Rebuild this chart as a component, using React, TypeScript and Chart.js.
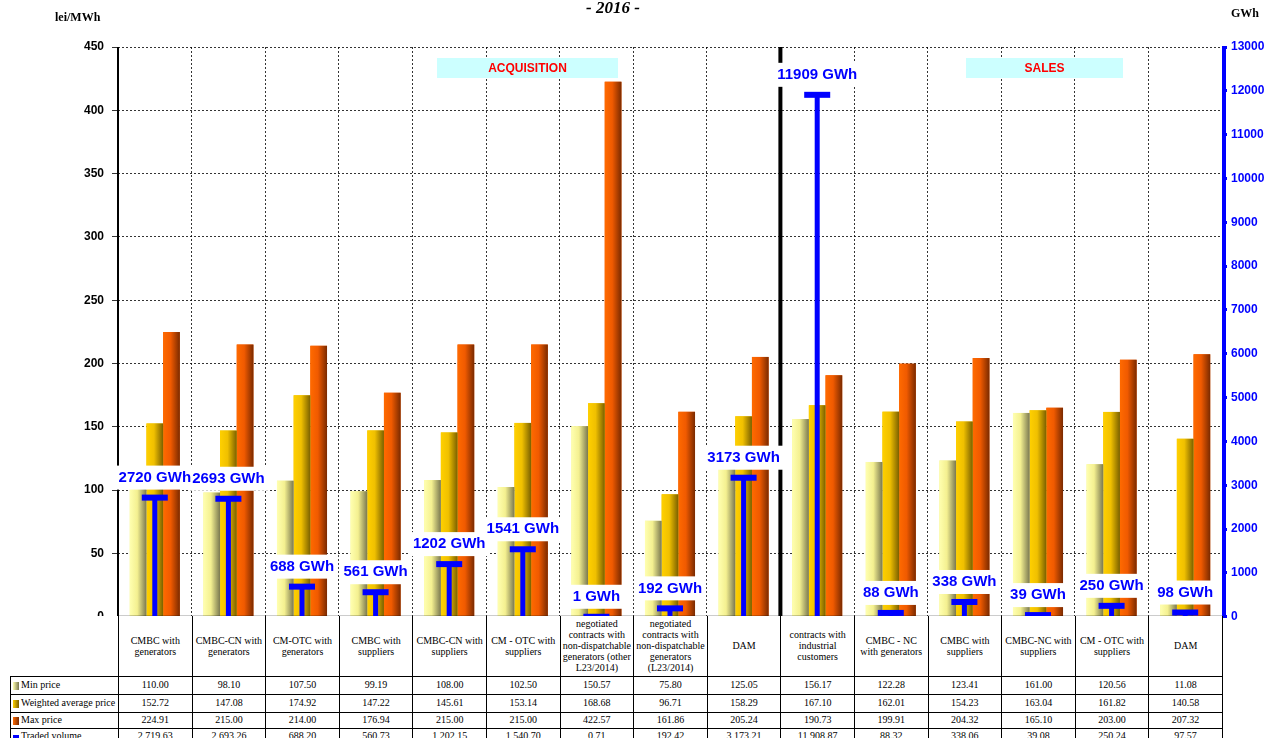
import { useEffect, useRef } from 'react';
import { Chart, registerables } from 'chart.js';

Chart.register(...registerables);

const categories = [
  'CMBC with generators', 'CMBC-CN with generators', 'CM-OTC with generators', 'CMBC with suppliers',
  'CMBC-CN with suppliers', 'CM - OTC with suppliers',
  'negotiated contracts with non-dispatchable generators (other L23/2014)',
  'negotiated contracts with non-dispatchable generators (L23/2014)', 'DAM',
  'contracts with industrial customers', 'CMBC - NC with generators', 'CMBC with suppliers',
  'CMBC-NC with suppliers', 'CM - OTC with suppliers', 'DAM',
];
const minPrice = [110.0, 98.1, 107.5, 99.19, 108.0, 102.5, 150.57, 75.8, 125.05, 156.17, 122.28, 123.41, 161.0, 120.56, 11.08];
const avgPrice = [152.72, 147.08, 174.92, 147.22, 145.61, 153.14, 168.68, 96.71, 158.29, 167.1, 162.01, 154.23, 163.04, 161.82, 140.58];
const maxPrice = [224.91, 215.0, 214.0, 176.94, 215.0, 215.0, 422.57, 161.86, 205.24, 190.73, 199.91, 204.32, 165.1, 203.0, 207.32];
const tradedVolume = [2719.63, 2693.26, 688.2, 560.73, 1202.15, 1540.7, 0.71, 192.42, 3173.21, 11908.87, 88.32, 338.06, 39.08, 250.24, 97.57];
const volumeLabels = ['2720 GWh', '2693 GWh', '688 GWh', '561 GWh', '1202 GWh', '1541 GWh', '1 GWh', '192 GWh', '3173 GWh', '11909 GWh', '88 GWh', '338 GWh', '39 GWh', '250 GWh', '98 GWh'];

const gradients: [string, string, string][] = [
  ['#ffffb0', '#f4f090', '#7a7850'],
  ['#ffd000', '#f0c000', '#7a6000'],
  ['#ff6a00', '#f05a00', '#7a2a00'],
];

const LEFT = 118;
const RIGHT = 63;
const COLW = (1285 - LEFT - RIGHT) / categories.length;

const fmt = (v: number) => v.toLocaleString('en-US', { minimumFractionDigits: 2, maximumFractionDigits: 2 });

const decor = {
  id: 'decor',
  afterDatasetDraw(chart: any, args: any) {
    if (args.index > 2) return;
    const ctx = chart.ctx;
    const [c0, c1, c2] = gradients[args.index];
    args.meta.data.forEach((b: any) => {
      const x0 = b.x - b.width / 2;
      const g = ctx.createLinearGradient(x0, 0, x0 + b.width, 0);
      g.addColorStop(0, c0);
      g.addColorStop(0.45, c1);
      g.addColorStop(1, c2);
      ctx.fillStyle = g;
      ctx.fillRect(x0, b.y, b.width, b.base - b.y);
    });
  },
  afterDatasetsDraw(chart: any) {
    const ctx = chart.ctx;
    const { top, bottom, left, right } = chart.chartArea;
    const x = chart.scales.x;
    const y1 = chart.scales.y1;
    // separator between acquisition and sales
    const sx = (x.getPixelForValue(8) + x.getPixelForValue(9)) / 2;
    ctx.save();
    ctx.fillStyle = '#000';
    ctx.fillRect(sx - 2, top, 4, bottom - top);
    // right axis line
    ctx.fillStyle = '#0000ff';
    ctx.fillRect(right, top, 4, bottom - top + 1);
    ctx.fillStyle = '#000';
    ctx.fillRect(left - 1, top, 2, bottom - top);
    ctx.fillRect(left, bottom - 1, right - left, 2);
    // boxes
    const box = (x0: number, x1: number, t: string) => {
      ctx.fillStyle = '#ccffff';
      ctx.fillRect(x0, 58, x1 - x0, 20);
      ctx.fillStyle = '#ff0000';
      ctx.font = 'bold 12px "Liberation Sans"';
      ctx.textAlign = 'center';
      ctx.textBaseline = 'middle';
      ctx.fillText(t, (x0 + x1) / 2, 69);
    };
    box(437, 618, 'ACQUISITION');
    box(966, 1123, 'SALES');
    // volume stems
    const base = y1.getPixelForValue(0);
    ctx.font = 'bold 15px "Liberation Sans"';
    ctx.textAlign = 'center';
    ctx.textBaseline = 'middle';
    tradedVolume.forEach((v, i) => {
      const cx = x.getPixelForValue(i);
      const py = y1.getPixelForValue(v);
      ctx.fillStyle = '#0000ff';
      ctx.fillRect(cx - 2.5, py, 5, base - py);
      ctx.fillRect(cx - 13, py - 3, 26, 6);
      const w = ctx.measureText(volumeLabels[i]).width;
      ctx.fillStyle = '#fff';
      ctx.fillRect(cx - w / 2 - 4, py - 32, w + 8, 24);
    });
    ctx.fillStyle = '#0000ff';
    tradedVolume.forEach((v, i) => {
      ctx.fillText(volumeLabels[i], x.getPixelForValue(i), y1.getPixelForValue(v) - 20);
    });
    ctx.restore();
  },
};

const ChartBox = () => {
  const ref = useRef<HTMLCanvasElement>(null);
  const inst = useRef<Chart | null>(null);
  useEffect(() => {
    if (inst.current) inst.current.destroy();
    if (!ref.current) return;
    const mk = (label: string, data: number[], color: string) => ({
      type: 'bar' as const, label, data, backgroundColor: color, yAxisID: 'y',
      categoryPercentage: 0.68, barPercentage: 1,
    });
    inst.current = new Chart(ref.current, {
      type: 'bar',
      data: {
        labels: categories,
        datasets: [
          mk('Min price', minPrice, gradients[0][1]),
          mk('Weighted average price', avgPrice, gradients[1][1]),
          mk('Max price', maxPrice, gradients[2][1]),
          { type: 'line', label: 'Traded volume', data: tradedVolume, yAxisID: 'y1', showLine: false, pointRadius: 0 } as any,
        ],
      },
      options: {
        animation: false,
        responsive: false,
        events: [],
        layout: { padding: { top: 47, bottom: 4 } },
        plugins: { legend: { display: false }, tooltip: { enabled: false } },
        scales: {
          x: {
            afterFit: (s: any) => { s.height = 0; },
            ticks: { display: false },
            border: { display: false, dash: [2, 2] },
            grid: { color: '#000', tickLength: 0, offset: true, drawTicks: false, lineWidth: 0.8 },
          },
          y: {
            min: 0, max: 450,
            afterFit: (s: any) => { s.width = LEFT; },
            ticks: { stepSize: 50, color: '#000', font: { family: 'Liberation Sans', weight: 'bold', size: 12 }, padding: 8 },
            border: { display: false, dash: [2, 2] },
            grid: { color: '#000', lineWidth: 0.8, tickLength: 6 },
          },
          y1: {
            position: 'right', min: 0, max: 13000,
            afterFit: (s: any) => { s.width = RIGHT; },
            ticks: { stepSize: 1000, color: '#0000ff', font: { family: 'Liberation Sans', weight: 'bold', size: 12 }, padding: 4, callback: (v: any) => String(v) },
            border: { display: false },
            grid: { drawOnChartArea: false, color: '#0000ff', lineWidth: 3, tickLength: 5 },
          },
        },
      },
      plugins: [decor],
    } as any);
    return () => { inst.current?.destroy(); inst.current = null; };
  }, []);
  return <canvas ref={ref} width={1285} height={632} style={{ position: 'absolute', left: 0, top: 0 }} />;
};

const rows: { label: string; data: number[]; swatch: string; h: number }[] = [
  { label: 'Min price', data: minPrice, swatch: 'linear-gradient(90deg,#ffffb0,#7a7850)', h: 18 },
  { label: 'Weighted average price', data: avgPrice, swatch: 'linear-gradient(90deg,#ffd000,#7a6000)', h: 18 },
  { label: 'Max price', data: maxPrice, swatch: 'linear-gradient(90deg,#ff6a00,#7a2a00)', h: 16 },
  { label: 'Traded volume', data: tradedVolume, swatch: '#0000ff', h: 16 },
];

export default function App() {
  const cell: any = { border: '1px solid #000', textAlign: 'center', padding: 0, width: COLW, boxSizing: 'border-box' };
  return (
    <div style={{ position: 'absolute', left: 0, top: 0, width: 1285, height: 738, background: '#fff', overflow: 'hidden', fontFamily: 'Liberation Serif' }}>
      <ChartBox />
      <div style={{ position: 'absolute', left: 586, top: -2, font: 'bold italic 17px "Liberation Serif"' }}>- 2016 -</div>
      <div style={{ position: 'absolute', left: 55, top: 10, font: 'bold 12px "Liberation Serif"' }}>lei/MWh</div>
      <div style={{ position: 'absolute', left: 1231, top: 6, font: 'bold 12px "Liberation Serif"' }}>GWh</div>
      <table style={{ position: 'absolute', left: 10, top: 616, borderCollapse: 'collapse', tableLayout: 'fixed', fontSize: 10, lineHeight: '10px', background: '#fff' }}>
        <colgroup>
          <col style={{ width: LEFT - 10 }} />
          {categories.map((_, i) => <col key={i} style={{ width: COLW }} />)}
        </colgroup>
        <tbody>
          <tr style={{ height: 60 }}>
            <td style={{ borderRight: '1px solid #000', padding: 0, background: '#fff' }} />
            {categories.map((c, i) => (
              <td key={i} style={{ ...cell, borderTop: 'none', padding: '0 1px', lineHeight: '11px' }}>{c}</td>
            ))}
          </tr>
          {rows.map((r) => (
            <tr key={r.label} style={{ height: r.h }}>
              <td style={{ border: '1px solid #000', whiteSpace: 'nowrap', paddingLeft: 2, paddingTop: 0, paddingBottom: 0 }}>
                <span style={{ display: 'inline-block', width: 6, height: r.label === 'Traded volume' ? 3 : 8, background: r.swatch, marginRight: 2, verticalAlign: 'middle' }} />
                {r.label}
              </td>
              {r.data.map((v, i) => <td key={i} style={cell}>{fmt(v)}</td>)}
            </tr>
          ))}
        </tbody>
      </table>
    </div>
  );
}
